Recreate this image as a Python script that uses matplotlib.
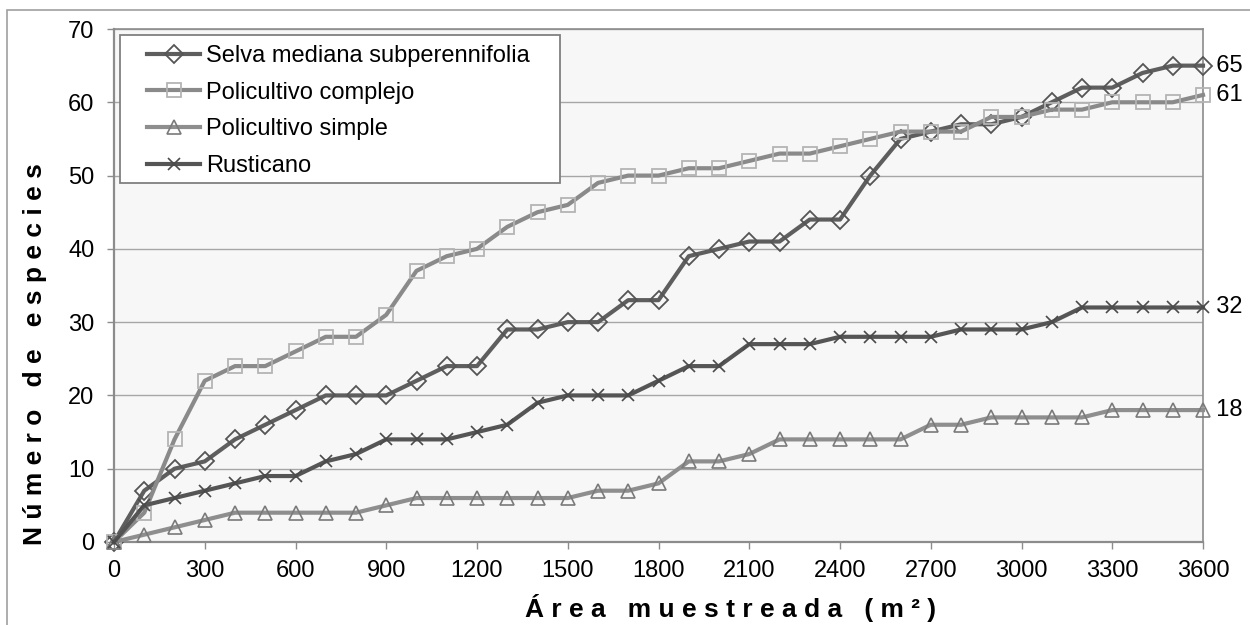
import matplotlib
matplotlib.use("Agg")
import matplotlib.pyplot as plt
from matplotlib.patches import Rectangle

plt.rcParams['font.family'] = ['Liberation Sans', 'DejaVu Sans']

area = list(range(0, 3700, 100))
selva = [0, 7, 10, 11, 14, 16, 18, 20, 20, 20, 22, 24, 24, 29, 29, 30, 30, 33, 33, 39,
         40, 41, 41, 44, 44, 50, 55, 56, 57, 57, 58, 60, 62, 62, 64, 65, 65]
complejo = [0, 4, 14, 22, 24, 24, 26, 28, 28, 31, 37, 39, 40, 43, 45, 46, 49, 50, 50, 51,
            51, 52, 53, 53, 54, 55, 56, 56, 56, 58, 58, 59, 59, 60, 60, 60, 61]
simple = [0, 1, 2, 3, 4, 4, 4, 4, 4, 5, 6, 6, 6, 6, 6, 6, 7, 7, 8, 11,
          11, 12, 14, 14, 14, 14, 14, 16, 16, 17, 17, 17, 17, 18, 18, 18, 18]
rusticano = [0, 5, 6, 7, 8, 9, 9, 11, 12, 14, 14, 14, 15, 16, 19, 20, 20, 20, 22, 24,
             24, 27, 27, 27, 28, 28, 28, 28, 29, 29, 29, 30, 32, 32, 32, 32, 32]
series_names = ["Selva mediana subperennifolia", "Policultivo complejo",
                "Policultivo simple", "Rusticano"]
xticks = list(range(0, 3700, 300))
yticks = list(range(0, 80, 10))

W, H = 1250, 625
fig = plt.figure(figsize=(12.5, 6.25), dpi=100)
ax = fig.add_axes([114 / W, 1 - 542 / H, (1203 - 114) / W, (542 - 29) / H])
ax.set_facecolor('#f7f7f7')

styles = [
    dict(color='#5e5e5e', marker='D', ms=9, mfc='none', mec='#555555', mew=1.3),
    dict(color='#8a8a8a', marker='s', ms=9.5, mfc='none', mec='#b4b4b4', mew=1.3),
    dict(color='#8e8e8e', marker='^', ms=9.5, mfc='none', mec='#7a7a7a', mew=1.2),
    dict(color='#555555', marker='x', ms=9, mfc='none', mec='#4a4a4a', mew=1.2),
]
data = [selva, complejo, simple, rusticano]
handles = []
for vals, name, st in zip(data, series_names, styles):
    h, = ax.plot(area, vals, lw=3.0, label=name, clip_on=False, zorder=3, **st)
    handles.append(h)

for vals in data:
    ax.text(3600, vals[-1], "  " + str(vals[-1]), fontsize=17, va='center', ha='left')

ax.set_xlim(0, 3600)
ax.set_ylim(0, 70)
ax.set_xticks(xticks)
ax.set_yticks(yticks)
ax.tick_params(axis='both', labelsize=17, length=5, width=1, color='#8c8c8c',
               direction='out')
ax.tick_params(axis='x', pad=8)
ax.tick_params(axis='y', pad=9)
ax.yaxis.grid(True, color='#a6a6a6', lw=1)
ax.set_axisbelow(True)
for s in ['top', 'right']:
    ax.spines[s].set_color('#8c8c8c')
    ax.spines[s].set_linewidth(1.2)
for s in ['left', 'bottom']:
    ax.spines[s].set_color('#8c8c8c')
    ax.spines[s].set_linewidth(1.6)

# legend frame
ax.add_patch(Rectangle((120 / W, 1 - 183 / H), (560 - 120) / W, (183 - 35) / H,
                       transform=fig.transFigure, facecolor='white', edgecolor='#808080',
                       lw=1.3, zorder=4.5, clip_on=False))
leg = ax.legend(handles=handles, loc='upper left',
                bbox_to_anchor=(147 / W, 1 - 45 / H), bbox_transform=fig.transFigure,
                fontsize=17, frameon=False, borderpad=0, labelspacing=0.62,
                handlelength=2.25, handletextpad=0.25, borderaxespad=0)
leg.set_zorder(5)

fig.text(731 / W, 1 - 608 / H, "Á r e a   m u e s t r e a d a   ( m ² )",
         ha='center', va='center', fontsize=19, fontweight='bold')
fig.text(35 / W, 1 - 354 / H, "N ú m e r o   d e   e s p e c i e s",
         ha='center', va='center', rotation=90, fontsize=19, fontweight='bold')

fig.patches.append(Rectangle((7 / W, -0.5), 2.0, 1.5 - 10 / H, transform=fig.transFigure,
                             fill=False, edgecolor='#a0a0a0', lw=1.2))

fig.savefig('out.png', dpi=100)
